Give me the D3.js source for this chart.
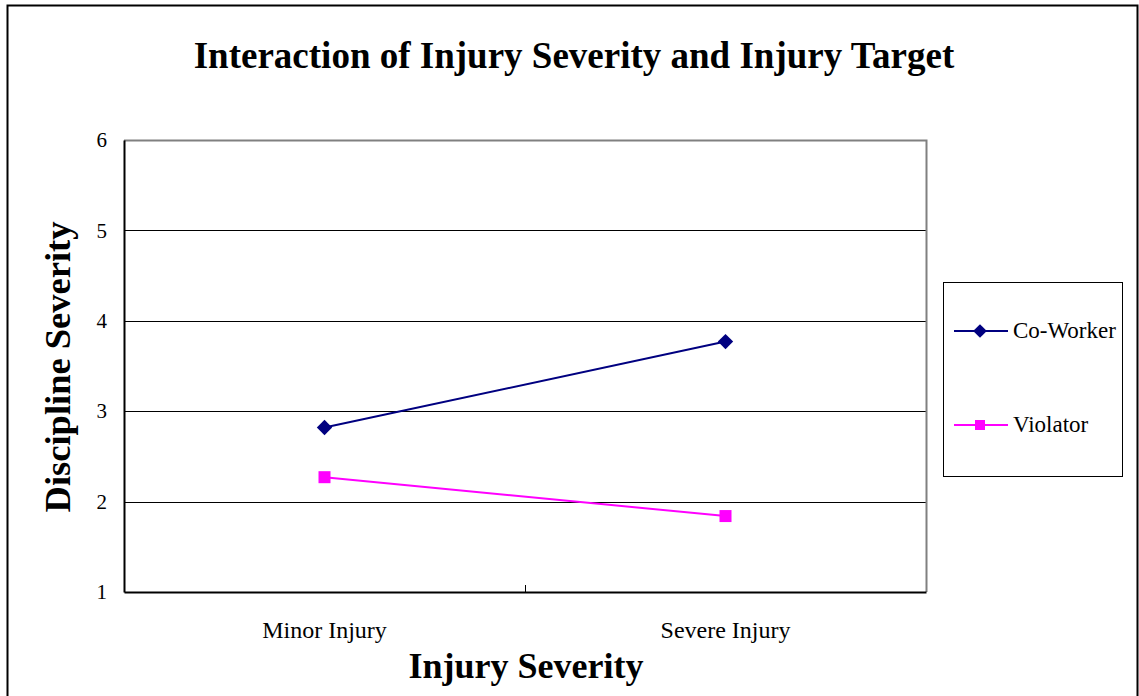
<!DOCTYPE html>
<html><head><meta charset="utf-8">
<script src="https://cdn.jsdelivr.net/npm/d3@7"></script>
<style>body{margin:0;background:#fff}svg{display:block}text{font-family:"Liberation Serif","Times New Roman",serif}</style>
</head><body><svg id="c" width="1139" height="696"></svg>
<script>
const categories = ["Minor Injury", "Severe Injury"];
const seriesNames = ["Co-Worker", "Violator"];
const coWorker = [2.82, 3.77];
const violator = [2.27, 1.84];
const yTicks = [1, 2, 3, 4, 5, 6];
const colors = ["#000080", "#FF00FF"];

const svg = d3.select("#c");
const L = 124, R = 926, T = 140, B = 592;
const x = d3.scaleBand().domain(categories).range([L, R]);
const y = d3.scaleLinear().domain([1, 6]).range([B, T]);

// outer border
svg.append("path").attr("d", "M7.5,700 V5.5 H1137.5 V700").attr("fill", "none").attr("stroke", "#000").attr("stroke-width", 2);

svg.append("text").attr("x", 574).attr("y", 68).attr("text-anchor", "middle")
  .attr("font-size", 37).attr("font-weight", "bold").text("Interaction of Injury Severity and Injury Target");

// gridlines
svg.append("g").selectAll("line").data(yTicks.filter(d => d > 1 && d < 6)).join("line")
  .attr("x1", L).attr("x2", R).attr("y1", d => Math.round(y(d)) + 0.5).attr("y2", d => Math.round(y(d)) + 0.5)
  .attr("stroke", "#000").attr("stroke-width", 1);
// top and right border gray
svg.append("path").attr("d", `M${L},${T + 0.5} H${R + 0.5} V${B}`).attr("fill", "none").attr("stroke", "#808080").attr("stroke-width", 2);

// y axis
const ya = svg.append("g").attr("transform", `translate(${L},0)`)
  .call(d3.axisLeft(y).tickValues(yTicks).tickSize(0).tickPadding(17).tickFormat(d3.format("d")));
ya.select(".domain").attr("stroke", "#000").attr("stroke-width", 2);
ya.selectAll("text").attr("font-size", 21).attr("font-family", "Liberation Serif").attr("fill", "#000");

// x axis
const xa = svg.append("g").attr("transform", `translate(0,${B})`)
  .call(d3.axisBottom(x).tickSize(0));
xa.select(".domain").attr("stroke", "#000").attr("stroke-width", 2);
xa.selectAll("text").attr("font-size", 24).attr("font-family", "Liberation Serif").attr("fill", "#000")
  .attr("y", 46).attr("dy", 0);
// inner category divider tick
svg.append("line").attr("x1", x(categories[1]) + 0.5).attr("x2", x(categories[1]) + 0.5)
  .attr("y1", B).attr("y2", B - 7).attr("stroke", "#000").attr("stroke-width", 1);

svg.append("text").attr("x", 526).attr("y", 678).attr("text-anchor", "middle")
  .attr("font-size", 36).attr("font-weight", "bold").text("Injury Severity");
svg.append("text").attr("transform", "translate(70,367) rotate(-90)").attr("text-anchor", "middle")
  .attr("font-size", 36.5).attr("font-weight", "bold").text("Discipline Severity");

const cx = d => x(d) + x.bandwidth() / 2;
const line = d3.line().x(d => cx(d[0])).y(d => y(d[1]));
const data = [coWorker, violator];
data.forEach((vals, i) => {
  const pts = categories.map((c, j) => [c, vals[j]]);
  svg.append("path").attr("d", line(pts)).attr("fill", "none").attr("stroke", colors[i]).attr("stroke-width", 2);
  const g = svg.append("g");
  pts.forEach(p => {
    if (i === 0) {
      g.append("path").attr("d", d3.symbol(d3.symbolDiamond2, 150)()).attr("transform", `translate(${cx(p[0])},${y(p[1])})`).attr("fill", colors[i]);
    } else {
      g.append("rect").attr("x", cx(p[0]) - 6).attr("y", y(p[1]) - 6).attr("width", 12).attr("height", 12).attr("fill", colors[i]);
    }
  });
});

// legend
svg.append("rect").attr("x", 943.5).attr("y", 282.5).attr("width", 179).attr("height", 194).attr("fill", "#fff").attr("stroke", "#000").attr("stroke-width", 1);
const legY = [331, 425];
seriesNames.forEach((n, i) => {
  svg.append("line").attr("x1", 954).attr("x2", 1008).attr("y1", legY[i]).attr("y2", legY[i]).attr("stroke", colors[i]).attr("stroke-width", 2);
  if (i === 0) svg.append("path").attr("d", d3.symbol(d3.symbolDiamond2, 120)()).attr("transform", `translate(980,${legY[i]})`).attr("fill", colors[i]);
  else svg.append("rect").attr("x", 975).attr("y", legY[i] - 5).attr("width", 10).attr("height", 10).attr("fill", colors[i]);
  svg.append("text").attr("x", 1013).attr("y", legY[i] + 7).attr("font-size", 23).text(n);
});
</script></body></html>
